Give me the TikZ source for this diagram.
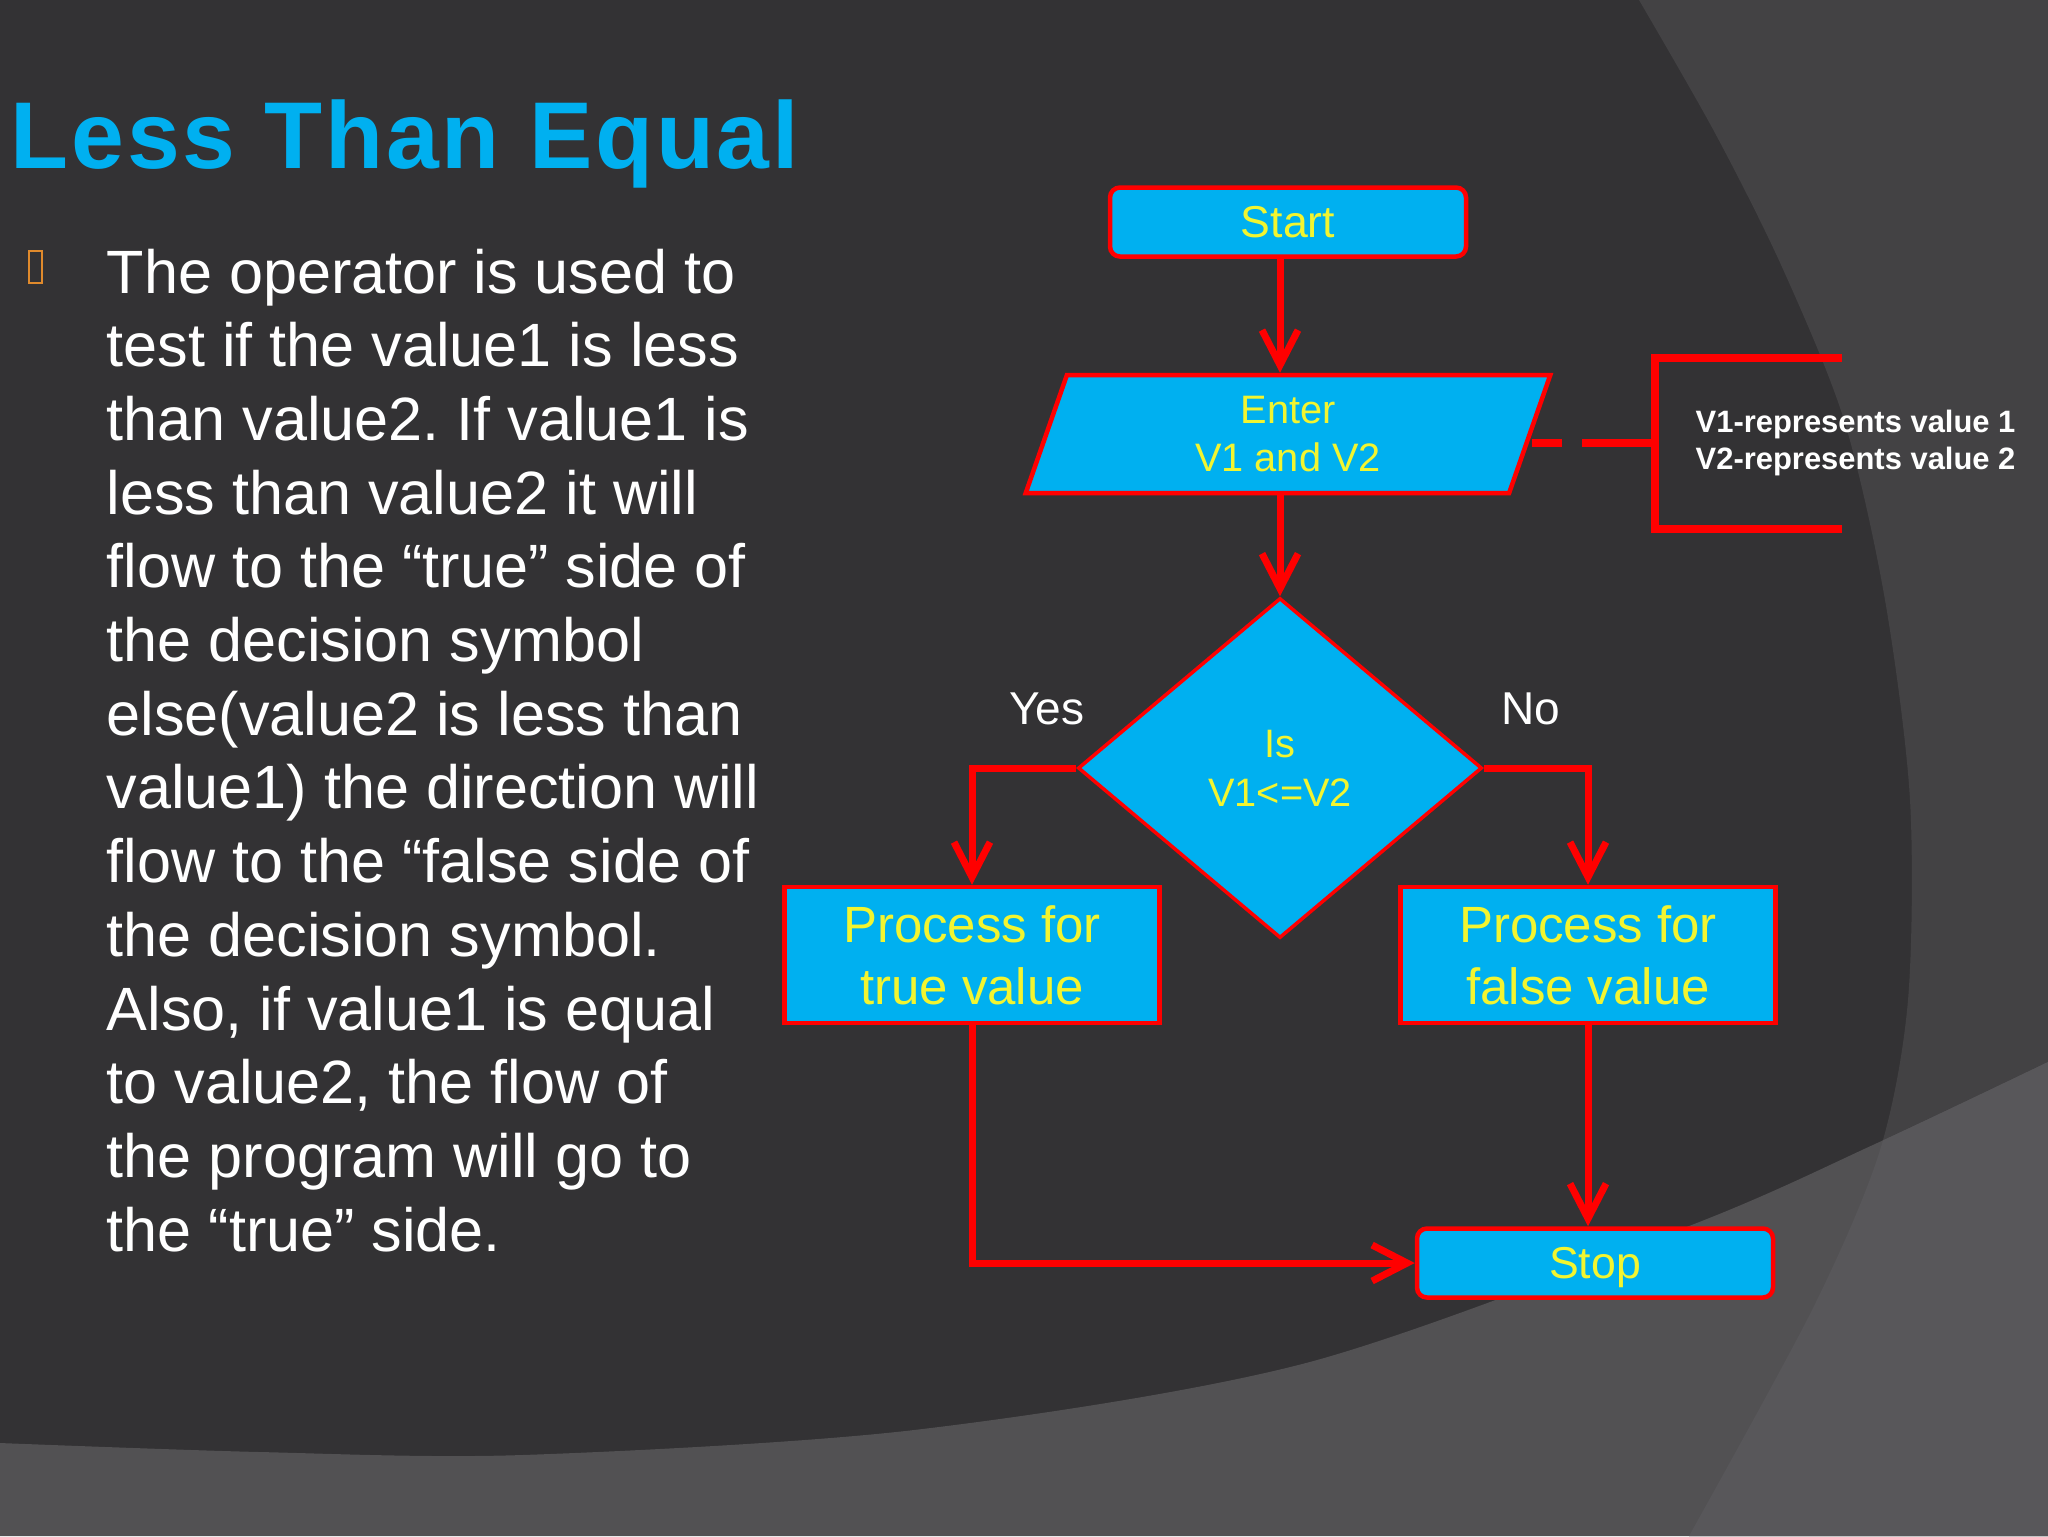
\documentclass[tikz,border=0pt]{standalone}
\usepackage{fontspec}
\setmainfont{Liberation Sans}
\newfontfamily\headfont[LetterSpace=3]{Liberation Sans}
\usetikzlibrary{arrows.meta,positioning,shapes.geometric}
\definecolor{slidebg}{HTML}{333234}
\definecolor{bandcol}{HTML}{434244}
\definecolor{floorcol}{HTML}{525153}
\definecolor{mixcol}{HTML}{58575A}
\definecolor{boxcol}{HTML}{00B0F0}
\definecolor{txtcol}{HTML}{F2F530}
\definecolor{linecol}{HTML}{FF0000}
\definecolor{tofucol}{HTML}{E08A2C}
\frenchspacing

\begin{document}
\begin{tikzpicture}[x=0.1mm,y=-0.1mm,>={Straight Barb[length=3.5mm,width=3.6mm]},
  fcbox/.style={draw=linecol,line width=0.45mm,fill=boxcol,text=txtcol,align=center,inner sep=0pt},
  term/.style={fcbox,rounded corners=1mm,minimum width=35.6mm,minimum height=6.9mm,text depth=0pt,
    font=\fontsize{12.7}{15}\selectfont},
  io/.style={fcbox,trapezium,trapezium left angle=77,trapezium right angle=103,trapezium stretches,
    minimum width=52.7mm,minimum height=11.8mm,font=\fontsize{11.3}{13.4}\selectfont},
  decision/.style={fcbox,diamond,line width=0.35mm,aspect=1.19,minimum width=40.4mm,minimum height=34mm,
    font=\fontsize{11.3}{13.9}\selectfont},
  proc/.style={fcbox,minimum width=37.5mm,minimum height=13.6mm,font=\fontsize{14.5}{17.6}\selectfont},
  flow/.style={->,draw=linecol,line width=0.7mm},
  answer/.style={text=white,font=\fontsize{13.1}{15}\selectfont},
  body/.style={text=white,inner sep=0pt,anchor=base west,font=\fontsize{17.4}{21}\selectfont},
  note/.style={text=white,inner sep=0pt,align=left,font=\bfseries\fontsize{8.8}{10.5}\selectfont}]
  \useasboundingbox (0,0) rectangle (2048,1536);

  % slide background
  \fill[slidebg] (0,0) rectangle (2048,1536);
  \fill[bandcol] plot[smooth] coordinates {(1639,0) (1715,133) (1782,267) (1844,420) (1885,600)
    (1910,800) (1908,1000) (1880,1150) (1813,1308) (1689,1536)} -- (2048,1536) -- (2048,0) -- cycle;
  \fill[floorcol] plot[smooth] coordinates {(0,1443) (260,1452) (522,1455) (914,1430) (1306,1363)
    (1689,1226) (1875,1144) (2048,1062)} -- (2048,1536) -- (0,1536) -- cycle;
  \begin{scope}
    \clip plot[smooth] coordinates {(1639,0) (1715,133) (1782,267) (1844,420) (1885,600)
      (1910,800) (1908,1000) (1880,1150) (1813,1308) (1689,1536)} -- (2048,1536) -- (2048,0) -- cycle;
    \fill[mixcol] plot[smooth] coordinates {(0,1443) (260,1452) (522,1455) (914,1430) (1306,1363)
      (1689,1226) (1875,1144) (2048,1062)} -- (2048,1536) -- (0,1536) -- cycle;
  \end{scope}

  % heading and text
  \node[anchor=base west,inner sep=0pt,text=boxcol,font=\headfont\bfseries\fontsize{27}{32}\selectfont] (head) at (10,168) {Less Than Equal};
  \draw[tofucol,line width=0.2mm] (29,251) rectangle (42,283);
  \foreach \ln [count=\i from 0] in {The operator is used to,test if the value1 is less,than value2. If value1 is,
    less than value2 it will,flow to the “true” side of,the decision symbol,else(value2 is less than,
    value1) the direction will,flow to the “false side of,the decision symbol.,{Also, if value1 is equal},
    {to value2, the flow of},the program will go to,the “true” side.}
    \node[body] (line\i) at (106,{293+73.7*\i}) {\ln};

  % flowchart
  \node[term] (start) at (1288,222) {Start};
  \node[io] (enter) at (1288,434) {Enter\\V1 and V2};
  \node[decision] (dec) at (1280,768) {Is\\V1<=V2};
  \node[proc] (true) at (972,955) {Process for\\true value};
  \node[proc] (false) at (1588,955) {Process for\\false value};
  \node[term] (stop) at (1595,1263) {Stop};
  \node[answer] (yes) at (1047,709) {Yes};
  \node[answer] (no) at (1531,709) {No};

  \draw[flow] (start.south -| dec.north) -- (enter.north -| dec.north);
  \draw[flow] (enter.south -| dec.north) -- (dec.north);
  \draw[flow] (dec.west) -| (true.north);
  \draw[flow] (dec.east) -| (false.north);
  \draw[flow] (false.south) -- (false.south |- stop.north);
  \draw[flow] (true.south) |- (stop.west);

  % side note
  \node[note,anchor=west] (vars) at (1695,443) {V1-represents value 1\\V2-represents value 2};
  \coordinate (bk) at (1655,443);
  \draw[linecol,line width=0.85mm] (1842,358) -- (1655,358) -- (1655,529) -- (1842,529);
  \draw[linecol,line width=0.8mm,dash pattern=on 3mm off 2mm on 7mm] (enter.east |- vars.west) -- (bk);
\end{tikzpicture}
\end{document}
